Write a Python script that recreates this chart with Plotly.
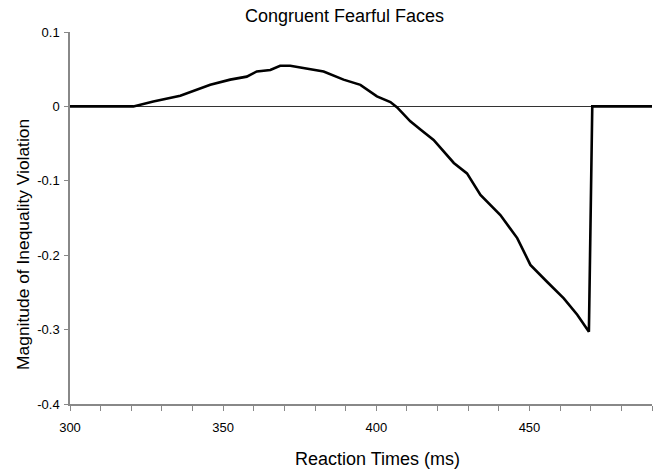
import plotly.graph_objects as go

# Reaction time (ms) and magnitude of inequality violation
rt = [300, 310, 320.7, 327.2, 336, 345.8, 352.3, 357.7, 361, 365.4, 368.6, 371.9,
      377.4, 382.8, 389.3, 394.8, 400.2, 404.6, 406.8, 411.1, 414.4, 418.7,
      425.3, 429.6, 434, 440.5, 446, 450.3, 455.8, 461.2, 465.6, 469.4, 470.5,
      480, 490]
violation = [0, 0, 0, 0.0067, 0.0144, 0.029, 0.036, 0.040, 0.047, 0.049, 0.0547, 0.0547,
             0.0507, 0.047, 0.036, 0.029, 0.0135, 0.0058, -0.0013, -0.020, -0.031, -0.045,
             -0.076, -0.090, -0.119, -0.146, -0.177, -0.213, -0.236, -0.258, -0.280, -0.303, 0,
             0, 0]

x_tickvals = list(range(300, 491, 10))
x_ticktext = [str(v) if v % 50 == 0 else "" for v in x_tickvals]
y_tickvals = [0.1, 0, -0.1, -0.2, -0.3, -0.4]
y_ticktext = ["0.1", "0", "-0.1", "-0.2", "-0.3", "-0.4"]

title_text = "Congruent Fearful Faces"
x_title = "Reaction Times (ms)"
y_title = "Magnitude of Inequality Violation"

fig = go.Figure()
fig.add_trace(go.Scatter(x=rt, y=violation, mode="lines",
                         line=dict(color="black", width=2.6),
                         showlegend=False))

font_family = "Liberation Sans, Arial, sans-serif"
fig.update_layout(
    width=656, height=472,
    margin=dict(l=70, r=4, t=32, b=68),
    paper_bgcolor="white", plot_bgcolor="white",
    font=dict(family=font_family, color="black", size=13),
    xaxis=dict(range=[300, 490], tickvals=x_tickvals, ticktext=x_ticktext,
               showgrid=False, zeroline=False, showline=True, linecolor="#888",
               linewidth=1.5, ticks="outside", ticklen=5, tickcolor="#888",
               tickfont=dict(size=13), ticklabelstandoff=6),
    yaxis=dict(range=[-0.4, 0.1], tickvals=y_tickvals, ticktext=y_ticktext,
               showgrid=False, zeroline=True, zerolinecolor="#333", zerolinewidth=1,
               showline=True, linecolor="#888", linewidth=1.5,
               ticks="outside", ticklen=4, tickcolor="#888",
               tickfont=dict(size=13), ticklabelstandoff=2),
    annotations=[
        dict(text=title_text, xref="paper", yref="paper", x=0.471, y=1.043,
             xanchor="center", yanchor="middle", showarrow=False,
             font=dict(size=18)),
        dict(text=x_title, xref="paper", yref="paper", x=0.528, y=-0.148,
             xanchor="center", yanchor="middle", showarrow=False,
             font=dict(size=18)),
        dict(text=y_title, xref="paper", yref="paper", x=-0.081, y=0.43,
             xanchor="center", yanchor="middle", showarrow=False, textangle=-90,
             font=dict(size=17.4)),
    ],
)

fig.write_html("out.html")
